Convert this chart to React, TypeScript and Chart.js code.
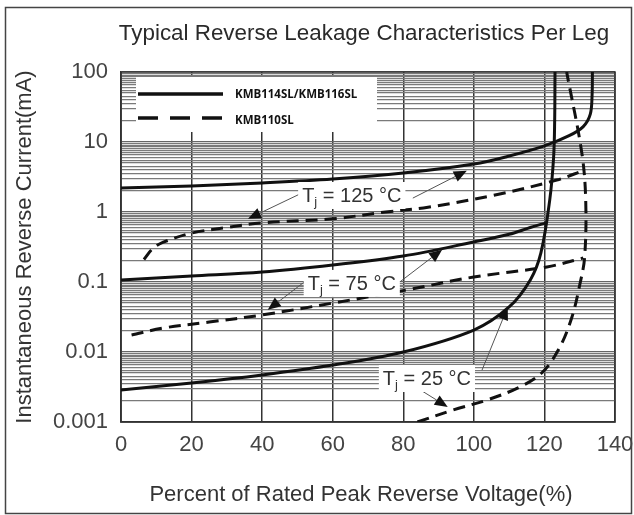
import React, { useEffect, useRef } from 'react';
import { Chart, registerables } from 'chart.js';

Chart.register(...registerables);

const TITLE = 'Typical Reverse Leakage Characteristics Per Leg';
const X_TITLE = 'Percent of Rated Peak Reverse Voltage(%)';
const Y_TITLE = 'Instantaneous Reverse Current(mA)';
const SERIES_NAMES = ['KMB114SL/KMB116SL', 'KMB110SL'];

const X_TICKS = [0, 20, 40, 60, 80, 100, 120, 140];
const Y_DECADES = [0.001, 0.01, 0.1, 1, 10, 100];
const Y_TICK_LABELS = ['0.001', '0.01', '0.1', '1', '10', '100'];
const MINOR_MULT = [2, 3, 3.5, 4, 4.5, 5, 5.5, 6, 6.5, 7, 7.5, 8, 8.5, 9, 9.5];

// KMB114SL/KMB116SL (solid)
const solid125X = [0, 20, 40, 60, 80, 100, 110, 120, 127, 131, 133, 133.5, 133.6];
const solid125Y = [2.2, 2.35, 2.6, 2.96, 3.6, 4.85, 6.3, 8.8, 12.3, 16.6, 25, 46, 100];
const solid75X = [0, 20, 40, 60, 80, 100, 110, 116, 120.5];
const solid75Y = [0.107, 0.122, 0.139, 0.175, 0.235, 0.373, 0.48, 0.6, 0.7];
const solid25X = [0, 20, 40, 60, 80, 100, 110, 116, 119, 121.5, 122.6, 122.9, 123];
const solid25Y = [0.00287, 0.0036, 0.0047, 0.0065, 0.01, 0.0206, 0.044, 0.107, 0.26, 1.48, 6, 20, 100];

// KMB110SL (dashed)
const dash125X = [6.5, 9, 12, 20, 30, 40, 60, 75, 87, 106, 123.5, 131];
const dash125Y = [0.21, 0.3, 0.37, 0.5, 0.6, 0.7, 0.8, 1.0, 1.17, 1.75, 2.86, 3.9];
const dash75X = [3, 12, 25, 40, 60, 81, 100, 120.7, 131];
const dash75Y = [0.0175, 0.022, 0.0268, 0.0338, 0.05, 0.077, 0.118, 0.164, 0.22];
const dash25X = [84, 94, 103.7, 113, 119.5, 124.4, 127.8, 130, 131.4, 131.7, 130.6, 126.3];
const dash25Y = [0.001, 0.00148, 0.00206, 0.00316, 0.00518, 0.0118, 0.0316, 0.0907, 0.228, 1.48, 6.97, 100];

// Temperature annotations: label text, label centre (data coords), arrows [fromX, fromY, toX, toY]
const ANNO_TEMPS = ['125', '75', '25'];
const ANNO_X = [65.4, 65.4, 86.7];
const ANNO_Y = [1.75, 0.097, 0.00425];
const ANNO_ARROWS = [
  [[51.3, 1.87, 36, 0.8], [82.7, 1.58, 98, 3.9]],
  [[52.7, 0.107, 41.6, 0.04], [79, 0.1, 91, 0.29]],
  [[102.3, 0.0055, 109.6, 0.044], [84.7, 0.0029, 92.6, 0.00164]],
];

const FONT = "'Liberation Sans', Arial, sans-serif";

const zip = (xs: number[], ys: number[]) => xs.map((x, i) => ({ x, y: ys[i] }));

const isDecade = (v: number) => Math.abs(Math.log10(v) - Math.round(Math.log10(v))) < 1e-9;

const decorPlugin = {
  id: 'decor',
  beforeDraw(chart: any) {
    const { ctx, width, height } = chart;
    ctx.save();
    ctx.fillStyle = '#ffffff';
    ctx.fillRect(0, 0, width, height);
    ctx.strokeStyle = '#444';
    ctx.lineWidth = 1.5;
    ctx.strokeRect(5.5, 7.5, 626, 506);
    ctx.fillStyle = '#2a2a2a';
    ctx.font = `22.4px ${FONT}`;
    ctx.textAlign = 'center';
    ctx.textBaseline = 'alphabetic';
    ctx.fillText(TITLE, 364, 40);
    // x axis title
    ctx.fillStyle = '#333';
    ctx.font = `22px ${FONT}`;
    ctx.fillText(X_TITLE, 361, 501);
    ctx.restore();
  },
  beforeDatasetsDraw(chart: any) {
    const { ctx, chartArea: a } = chart;
    ctx.save();
    ctx.fillStyle = '#ffffff';
    ctx.fillRect(a.left + 15, a.top + 5, 241, 55);
    ctx.strokeStyle = '#333';
    ctx.lineWidth = 1.5;
    ctx.strokeRect(a.left, a.top, a.right - a.left, a.bottom - a.top);
    ctx.restore();
  },
  afterDatasetsDraw(chart: any) {
    const { ctx, chartArea: a, scales } = chart;
    const xs = scales.x;
    const ys = scales.y;
    ctx.save();
    const sampleX0 = a.left + 17;
    const sampleX1 = a.left + 102;
    const rows = [a.top + 22, a.top + 46];
    ctx.strokeStyle = '#111';
    ctx.lineWidth = 3.5;
    ctx.setLineDash([]);
    ctx.beginPath();
    ctx.moveTo(sampleX0, rows[0]);
    ctx.lineTo(sampleX1, rows[0]);
    ctx.stroke();
    ctx.setLineDash([20, 12]);
    ctx.beginPath();
    ctx.moveTo(sampleX0, rows[1]);
    ctx.lineTo(sampleX1, rows[1]);
    ctx.stroke();
    ctx.setLineDash([]);
    ctx.fillStyle = '#111';
    ctx.font = `bold 11.5px 'Open Sans', 'DejaVu Sans', sans-serif`;
    ctx.textAlign = 'left';
    ctx.textBaseline = 'middle';
    ctx.fillText(SERIES_NAMES[0], a.left + 114, rows[0] + 1);
    ctx.fillText(SERIES_NAMES[1], a.left + 114, rows[1] + 3);

    ANNO_TEMPS.forEach((t, i) => {
      ANNO_ARROWS[i].forEach(([fx, fy, tx, ty]) => {
        const x1 = xs.getPixelForValue(fx);
        const y1 = ys.getPixelForValue(fy);
        const x2 = xs.getPixelForValue(tx);
        const y2 = ys.getPixelForValue(ty);
        const ang = Math.atan2(y2 - y1, x2 - x1);
        const len = 13;
        const hw = 5.5;
        const bx = x2 - len * Math.cos(ang);
        const by = y2 - len * Math.sin(ang);
        ctx.strokeStyle = '#555';
        ctx.lineWidth = 1;
        ctx.beginPath();
        ctx.moveTo(x1, y1);
        ctx.lineTo(bx, by);
        ctx.stroke();
        ctx.fillStyle = '#111';
        ctx.beginPath();
        ctx.moveTo(x2, y2);
        ctx.lineTo(bx + hw * Math.sin(ang), by - hw * Math.cos(ang));
        ctx.lineTo(bx - hw * Math.sin(ang), by + hw * Math.cos(ang));
        ctx.closePath();
        ctx.fill();
      });
      const cx = xs.getPixelForValue(ANNO_X[i]);
      const cy = ys.getPixelForValue(ANNO_Y[i]);
      const rest = ` = ${t} °C`;
      ctx.font = `20px ${FONT}`;
      const wT = ctx.measureText('T').width;
      const wRest = ctx.measureText(rest).width;
      ctx.font = `13px ${FONT}`;
      const wj = ctx.measureText('j').width;
      const total = wT + wj + wRest;
      const x0 = cx - total / 2;
      ctx.fillStyle = '#ffffff';
      ctx.fillRect(x0 - 4, cy - 13, total + 8, 27);
      ctx.fillStyle = '#333';
      ctx.textAlign = 'left';
      ctx.textBaseline = 'alphabetic';
      const base = cy + 7;
      ctx.font = `20px ${FONT}`;
      ctx.fillText('T', x0, base);
      ctx.font = `13px ${FONT}`;
      ctx.fillText('j', x0 + wT, base + 4);
      ctx.font = `20px ${FONT}`;
      ctx.fillText(rest, x0 + wT + wj, base);
    });
    ctx.restore();
  },
};

export default function App() {
  const ref = useRef<HTMLCanvasElement | null>(null);

  useEffect(() => {
    document.body.style.margin = '0';
    const canvas = ref.current;
    if (!canvas) return;

    const solidStyle = { borderColor: '#111', borderWidth: 3, pointRadius: 0, tension: 0.35, fill: false };
    const dashStyle = { ...solidStyle, borderDash: [12, 7] };

    const chart = new Chart(canvas, {
      type: 'line',
      data: {
        datasets: [
          { label: SERIES_NAMES[0] + ' 125', data: zip(solid125X, solid125Y), ...solidStyle },
          { label: SERIES_NAMES[0] + ' 75', data: zip(solid75X, solid75Y), ...solidStyle },
          { label: SERIES_NAMES[0] + ' 25', data: zip(solid25X, solid25Y), ...solidStyle },
          { label: SERIES_NAMES[1] + ' 125', data: zip(dash125X, dash125Y), ...dashStyle },
          { label: SERIES_NAMES[1] + ' 75', data: zip(dash75X, dash75Y), ...dashStyle },
          { label: SERIES_NAMES[1] + ' 25', data: zip(dash25X, dash25Y), ...dashStyle },
        ],
      },
      options: {
        animation: false,
        responsive: false,
        devicePixelRatio: 1,
        layout: { padding: { top: 72, right: 19, left: 0, bottom: 0 } },
        plugins: { legend: { display: false }, tooltip: { enabled: false }, title: { display: false } },
        scales: {
          x: {
            type: 'linear',
            min: 0,
            max: 140,
            afterBuildTicks: (s: any) => {
              s.ticks = X_TICKS.map((v) => ({ value: v }));
            },
            afterFit: (s: any) => {
              s.height = 93;
              s.paddingLeft = 0;
              s.paddingRight = 0;
            },
            ticks: {
              autoSkip: false,
              maxRotation: 0,
              padding: 10,
              color: '#444',
              font: { size: 22, family: FONT },
              callback: (v: any) => String(v),
            },
            grid: { color: '#333', lineWidth: 1.5, drawTicks: false },
            border: { display: true, color: '#333', width: 1.5 },
            title: { display: false },
          },
          y: {
            type: 'logarithmic',
            min: 0.001,
            max: 100,
            afterBuildTicks: (s: any) => {
              const ticks: any[] = [];
              Y_DECADES.forEach((d, i) => {
                ticks.push({ value: d });
                if (i < Y_DECADES.length - 1) MINOR_MULT.forEach((m) => ticks.push({ value: m * d }));
              });
              s.ticks = ticks;
            },
            afterFit: (s: any) => {
              s.width = 121;
              s.paddingTop = 0;
              s.paddingBottom = 0;
            },
            ticks: {
              autoSkip: false,
              padding: 13,
              color: '#444',
              font: { size: 22, family: FONT },
              callback: (v: any) => {
                const idx = Y_DECADES.findIndex((d) => Math.abs(d - v) / d < 1e-6);
                return idx >= 0 ? Y_TICK_LABELS[idx] : '';
              },
            },
            grid: {
              color: (c: any) => (c.tick && isDecade(c.tick.value) ? '#666' : '#7a7a7a'),
              lineWidth: 1.2,
              drawTicks: false,
            },
            border: { display: true, color: '#333', width: 1.5 },
            title: {
              display: true,
              text: Y_TITLE,
              color: '#333',
              font: { size: 22, family: FONT },
              padding: { top: 12, bottom: 0 },
            },
          },
        },
      },
      plugins: [decorPlugin],
    } as any);

    return () => chart.destroy();
  }, []);

  return (
    <div style={{ width: 634, height: 515 }}>
      <canvas ref={ref} width={634} height={515} style={{ display: 'block' }} />
    </div>
  );
}
